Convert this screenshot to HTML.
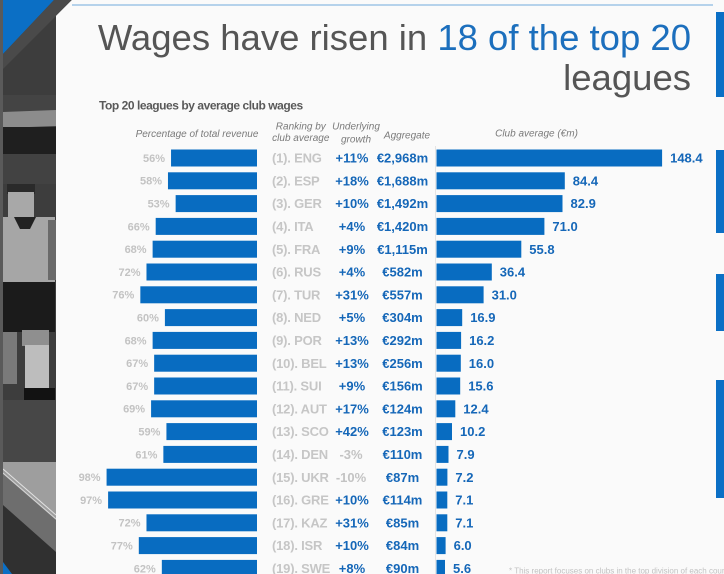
<!DOCTYPE html>
<html>
<head>
<meta charset="utf-8">
<style>
html,body{margin:0;padding:0;background:#fafafa;}
body{width:724px;height:574px;overflow:hidden;}
svg{display:block;}
text{font-family:"Liberation Sans",Arial,sans-serif;}
.pct{font-size:11px;font-weight:bold;fill:#c3c3c3;text-anchor:end;}
.rk{font-size:13px;font-weight:bold;fill:#c6c6c6;letter-spacing:-0.2px;}
.gr{font-size:13px;font-weight:bold;fill:#1567b8;text-anchor:middle;}
.grn{font-size:13px;font-weight:bold;fill:#c3c3c3;text-anchor:middle;}
.ag{font-size:13px;font-weight:bold;fill:#1567b8;text-anchor:middle;}
.val{font-size:13px;font-weight:bold;fill:#1567b8;}
.hd{font-size:10px;font-style:italic;fill:#7a7a7a;text-anchor:middle;}
.bar{fill:#086cc1;}
</style>
</head>
<body>
<svg width="724" height="574" viewBox="0 0 724 574" xmlns="http://www.w3.org/2000/svg">
  <!-- left photo strip -->
  <rect x="0" y="0" width="56" height="574" fill="#3d3d3d"/>
  <rect x="0" y="95" width="56" height="17" fill="#444"/>
  <polygon points="3,112 56,110 56,126 3,128" fill="#8c8c8c"/>
  <rect x="3" y="127" width="53" height="27" fill="#1f1f1f"/>
  <rect x="3" y="154" width="53" height="30" fill="#424242"/>
  <!-- referee -->
  <rect x="7" y="184" width="28" height="10" fill="#2a2a2a"/>
  <rect x="8" y="192" width="26" height="28" fill="#a8a8a8"/>
  <rect x="3" y="217" width="52" height="66" fill="#a6a6a6"/>
  <polygon points="14,217 36,217 30,229 20,229" fill="#222"/>
  <rect x="48" y="220" width="8" height="60" fill="#6a6a6a"/>
  <rect x="3" y="282" width="52" height="50" fill="#1b1b1b"/>
  <rect x="3" y="332" width="14" height="52" fill="#7a7a7a"/>
  <rect x="22" y="330" width="27" height="16" fill="#8f8f8f"/>
  <rect x="25" y="345" width="24" height="45" fill="#bdbdbd"/>
  <rect x="24" y="388" width="31" height="12" fill="#121212"/>
  <rect x="3" y="400" width="53" height="64" fill="#474747"/>
  <!-- bottom pitch area -->
  <rect x="3" y="462" width="53" height="112" fill="#9e9e9e"/>
  <polygon points="3,474 56,520 56,574 3,574" fill="#6e6e6e"/>
  <polygon points="3,505 56,552 56,574 3,574" fill="#303030"/>
  <line x1="3" y1="469" x2="56" y2="515" stroke="#e2e2e2" stroke-width="1"/>
  <line x1="3" y1="473" x2="56" y2="519" stroke="#d6d6d6" stroke-width="1"/>
  <polygon points="3,562 12,574 3,574" fill="#0b6fc5"/>
  <rect x="0" y="0" width="3" height="574" fill="#5a5a5a"/>
  <!-- top-left corner -->
  <polygon points="3,0 54,0 3,54" fill="#0b6fc5"/>
  <polygon points="54,0 72,0 3,69 3,54" fill="#4a4a4a"/>
  <!-- white panel -->
  <polygon points="72,0 724,0 724,574 56,574 56,16" fill="#fafafa"/>
  <line x1="72" y1="5" x2="713" y2="5" stroke="#9ec4e6" stroke-width="1.5"/>
  <!-- right side blue strips -->
  <rect x="716" y="12" width="8" height="85" fill="#0b6fc5"/>
  <rect x="716" y="150" width="8" height="83" fill="#0b6fc5"/>
  <rect x="716" y="274" width="8" height="57" fill="#0b6fc5"/>
  <rect x="716" y="380" width="8" height="118" fill="#0b6fc5"/>

  <!-- title -->
  <text x="691" y="50" font-size="36.5" text-anchor="end"><tspan fill="#555555">Wages have risen in </tspan><tspan fill="#1c6fbd">18 of the top 20</tspan></text>
  <text x="691" y="90" font-size="36.5" text-anchor="end" fill="#555555">leagues</text>

  <text x="99" y="109.3" font-size="12" font-weight="bold" fill="#595959" letter-spacing="-0.45">Top 20 leagues by average club wages</text>

  <!-- headers -->
  <text class="hd" x="197" y="137">Percentage of total revenue</text>
  <text class="hd" x="300.8" y="129.3">Ranking by</text>
  <text class="hd" x="300.8" y="141">club average</text>
  <text class="hd" x="356" y="129.6">Underlying</text>
  <text class="hd" x="356" y="142.6">growth</text>
  <text class="hd" x="407" y="138.3">Aggregate</text>
  <text class="hd" x="536.5" y="136.5">Club average (€m)</text>

  <line x1="435.5" y1="146" x2="435.5" y2="574" stroke="#e4e4e4" stroke-width="1"/>

  <!-- rows -->
  <!-- 1 -->
  <rect class="bar" x="171.04" y="149.5" width="85.96" height="17"/>
  <text class="pct" x="165" y="161.9">56%</text>
  <text class="rk" x="272" y="162.6">(1). ENG</text>
  <text class="gr" x="352" y="162.6">+11%</text>
  <text class="ag" x="402.5" y="162.6">€2,968m</text>
  <rect class="bar" x="436.5" y="149.5" width="225.6" height="17"/>
  <text class="val" x="670.1" y="162.6">148.4</text>
  <!-- 2 -->
  <rect class="bar" x="167.97" y="172.3" width="89.03" height="17"/>
  <text class="pct" x="162" y="184.7">58%</text>
  <text class="rk" x="272" y="185.4">(2). ESP</text>
  <text class="gr" x="352" y="185.4">+18%</text>
  <text class="ag" x="402.5" y="185.4">€1,688m</text>
  <rect class="bar" x="436.5" y="172.3" width="128.3" height="17"/>
  <text class="val" x="572.8" y="185.4">84.4</text>
  <!-- 3 -->
  <rect class="bar" x="175.64" y="195.1" width="81.36" height="17"/>
  <text class="pct" x="169.6" y="207.5">53%</text>
  <text class="rk" x="272" y="208.2">(3). GER</text>
  <text class="gr" x="352" y="208.2">+10%</text>
  <text class="ag" x="402.5" y="208.2">€1,492m</text>
  <rect class="bar" x="436.5" y="195.1" width="126.0" height="17"/>
  <text class="val" x="570.5" y="208.2">82.9</text>
  <!-- 4 -->
  <rect class="bar" x="155.69" y="217.9" width="101.31" height="17"/>
  <text class="pct" x="149.7" y="230.3">66%</text>
  <text class="rk" x="272" y="231">(4). ITA</text>
  <text class="gr" x="352" y="231">+4%</text>
  <text class="ag" x="402.5" y="231">€1,420m</text>
  <rect class="bar" x="436.5" y="217.9" width="107.9" height="17"/>
  <text class="val" x="552.4" y="231">71.0</text>
  <!-- 5 -->
  <rect class="bar" x="152.62" y="240.7" width="104.38" height="17"/>
  <text class="pct" x="146.6" y="253.1">68%</text>
  <text class="rk" x="272" y="253.8">(5). FRA</text>
  <text class="gr" x="352" y="253.8">+9%</text>
  <text class="ag" x="402.5" y="253.8">€1,115m</text>
  <rect class="bar" x="436.5" y="240.7" width="84.8" height="17"/>
  <text class="val" x="529.3" y="253.8">55.8</text>
  <!-- 6 -->
  <rect class="bar" x="146.48" y="263.5" width="110.52" height="17"/>
  <text class="pct" x="140.5" y="275.9">72%</text>
  <text class="rk" x="272" y="276.6">(6). RUS</text>
  <text class="gr" x="352" y="276.6">+4%</text>
  <text class="ag" x="402.5" y="276.6">€582m</text>
  <rect class="bar" x="436.5" y="263.5" width="55.3" height="17"/>
  <text class="val" x="499.8" y="276.6">36.4</text>
  <!-- 7 -->
  <rect class="bar" x="140.34" y="286.3" width="116.66" height="17"/>
  <text class="pct" x="134.3" y="298.7">76%</text>
  <text class="rk" x="272" y="299.4">(7). TUR</text>
  <text class="gr" x="352" y="299.4">+31%</text>
  <text class="ag" x="402.5" y="299.4">€557m</text>
  <rect class="bar" x="436.5" y="286.3" width="47.1" height="17"/>
  <text class="val" x="491.6" y="299.4">31.0</text>
  <!-- 8 -->
  <rect class="bar" x="164.9" y="309.1" width="92.1" height="17"/>
  <text class="pct" x="158.9" y="321.5">60%</text>
  <text class="rk" x="272" y="322.2">(8). NED</text>
  <text class="gr" x="352" y="322.2">+5%</text>
  <text class="ag" x="402.5" y="322.2">€304m</text>
  <rect class="bar" x="436.5" y="309.1" width="25.7" height="17"/>
  <text class="val" x="470.2" y="322.2">16.9</text>
  <!-- 9 -->
  <rect class="bar" x="152.62" y="331.9" width="104.38" height="17"/>
  <text class="pct" x="146.6" y="344.3">68%</text>
  <text class="rk" x="272" y="345">(9). POR</text>
  <text class="gr" x="352" y="345">+13%</text>
  <text class="ag" x="402.5" y="345">€292m</text>
  <rect class="bar" x="436.5" y="331.9" width="24.6" height="17"/>
  <text class="val" x="469.1" y="345">16.2</text>
  <!-- 10 -->
  <rect class="bar" x="154.15" y="354.7" width="102.85" height="17"/>
  <text class="pct" x="148.2" y="367.1">67%</text>
  <text class="rk" x="272" y="367.8">(10). BEL</text>
  <text class="gr" x="352" y="367.8">+13%</text>
  <text class="ag" x="402.5" y="367.8">€256m</text>
  <rect class="bar" x="436.5" y="354.7" width="24.3" height="17"/>
  <text class="val" x="468.8" y="367.8">16.0</text>
  <!-- 11 -->
  <rect class="bar" x="154.15" y="377.5" width="102.85" height="17"/>
  <text class="pct" x="148.2" y="389.9">67%</text>
  <text class="rk" x="272" y="390.6">(11). SUI</text>
  <text class="gr" x="352" y="390.6">+9%</text>
  <text class="ag" x="402.5" y="390.6">€156m</text>
  <rect class="bar" x="436.5" y="377.5" width="23.7" height="17"/>
  <text class="val" x="468.2" y="390.6">15.6</text>
  <!-- 12 -->
  <rect class="bar" x="151.08" y="400.3" width="105.92" height="17"/>
  <text class="pct" x="145.1" y="412.7">69%</text>
  <text class="rk" x="272" y="413.4">(12). AUT</text>
  <text class="gr" x="352" y="413.4">+17%</text>
  <text class="ag" x="402.5" y="413.4">€124m</text>
  <rect class="bar" x="436.5" y="400.3" width="18.8" height="17"/>
  <text class="val" x="463.3" y="413.4">12.4</text>
  <!-- 13 -->
  <rect class="bar" x="166.43" y="423.1" width="90.57" height="17"/>
  <text class="pct" x="160.4" y="435.5">59%</text>
  <text class="rk" x="272" y="436.2">(13). SCO</text>
  <text class="gr" x="352" y="436.2">+42%</text>
  <text class="ag" x="402.5" y="436.2">€123m</text>
  <rect class="bar" x="436.5" y="423.1" width="15.5" height="17"/>
  <text class="val" x="460" y="436.2">10.2</text>
  <!-- 14 -->
  <rect class="bar" x="163.36" y="445.9" width="93.64" height="17"/>
  <text class="pct" x="157.4" y="458.3">61%</text>
  <text class="rk" x="272" y="459">(14). DEN</text>
  <text class="grn" x="351" y="459">-3%</text>
  <text class="ag" x="402.5" y="459">€110m</text>
  <rect class="bar" x="436.5" y="445.9" width="12.0" height="17"/>
  <text class="val" x="456.5" y="459">7.9</text>
  <!-- 15 -->
  <rect class="bar" x="106.57" y="468.7" width="150.43" height="17"/>
  <text class="pct" x="100.6" y="481.1">98%</text>
  <text class="rk" x="272" y="481.8">(15). UKR</text>
  <text class="grn" x="351" y="481.8">-10%</text>
  <text class="ag" x="402.5" y="481.8">€87m</text>
  <rect class="bar" x="436.5" y="468.7" width="10.9" height="17"/>
  <text class="val" x="455.4" y="481.8">7.2</text>
  <!-- 16 -->
  <rect class="bar" x="108.1" y="491.5" width="148.9" height="17"/>
  <text class="pct" x="102.1" y="503.9">97%</text>
  <text class="rk" x="272" y="504.6">(16). GRE</text>
  <text class="gr" x="352" y="504.6">+10%</text>
  <text class="ag" x="402.5" y="504.6">€114m</text>
  <rect class="bar" x="436.5" y="491.5" width="10.8" height="17"/>
  <text class="val" x="455.3" y="504.6">7.1</text>
  <!-- 17 -->
  <rect class="bar" x="146.48" y="514.3" width="110.52" height="17"/>
  <text class="pct" x="140.5" y="526.7">72%</text>
  <text class="rk" x="272" y="527.4">(17). KAZ</text>
  <text class="gr" x="352" y="527.4">+31%</text>
  <text class="ag" x="402.5" y="527.4">€85m</text>
  <rect class="bar" x="436.5" y="514.3" width="10.8" height="17"/>
  <text class="val" x="455.3" y="527.4">7.1</text>
  <!-- 18 -->
  <rect class="bar" x="138.8" y="537.1" width="118.2" height="17"/>
  <text class="pct" x="132.8" y="549.5">77%</text>
  <text class="rk" x="272" y="550.2">(18). ISR</text>
  <text class="gr" x="352" y="550.2">+10%</text>
  <text class="ag" x="402.5" y="550.2">€84m</text>
  <rect class="bar" x="436.5" y="537.1" width="9.1" height="17"/>
  <text class="val" x="453.6" y="550.2">6.0</text>
  <!-- 19 -->
  <rect class="bar" x="161.83" y="559.9" width="95.17" height="17"/>
  <text class="pct" x="155.8" y="572.3">62%</text>
  <text class="rk" x="272" y="573">(19). SWE</text>
  <text class="gr" x="352" y="573">+8%</text>
  <text class="ag" x="402.5" y="573">€90m</text>
  <rect class="bar" x="436.5" y="559.9" width="8.5" height="17"/>
  <text class="val" x="453" y="573">5.6</text>

  <!-- footnote -->
  <text x="509" y="573.5" font-size="8" fill="#c2c2c2">* This report focuses on clubs in the top division of each country</text>
</svg>
</body>
</html>
